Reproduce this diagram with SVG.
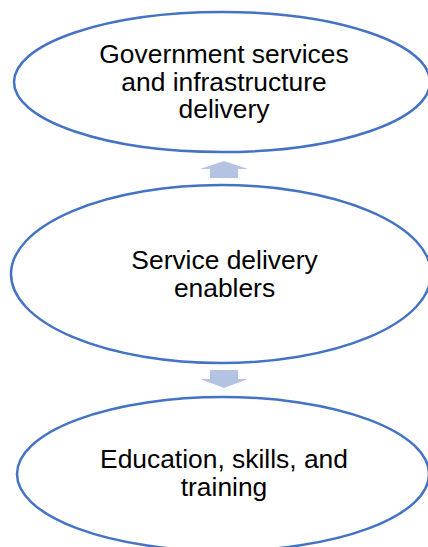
<svg xmlns="http://www.w3.org/2000/svg" width="428" height="547" viewBox="0 0 428 547">
  <style>
    .node ellipse { fill: #ffffff; stroke: #4472c4; stroke-width: 2.5; }
    .node text { font-family: "Liberation Sans", Arial, sans-serif; font-size: 26.4px; fill: #000000; text-anchor: middle; }
    .arrow { fill: #b4c3e4; }
  </style>
  <rect width="428" height="547" fill="#ffffff"/>

  <g id="connectors">
    <!-- upward block arrow between middle and top -->
    <path class="arrow" d="M210,178 L210,169 L200,169 L224,161 L248,169 L238,169 L238,178 Z"/>
    <!-- downward block arrow between middle and bottom -->
    <path class="arrow" d="M210,370 L238,370 L238,379 L248,379 L224,388 L200,379 L210,379 Z"/>
  </g>

  <g id="node-government" class="node">
    <ellipse cx="222" cy="82" rx="208" ry="70"/>
    <text x="224" y="63">Government services</text>
    <text x="224" y="90.5">and infrastructure</text>
    <text x="224" y="118">delivery</text>
  </g>

  <g id="node-enablers" class="node">
    <ellipse cx="221" cy="274" rx="210" ry="89"/>
    <text x="224.5" y="269">Service delivery</text>
    <text x="224.5" y="296.5">enablers</text>
  </g>

  <g id="node-education" class="node">
    <ellipse cx="223" cy="474" rx="206" ry="77"/>
    <text x="224" y="468">Education, skills, and</text>
    <text x="224" y="495.5">training</text>
  </g>
</svg>
